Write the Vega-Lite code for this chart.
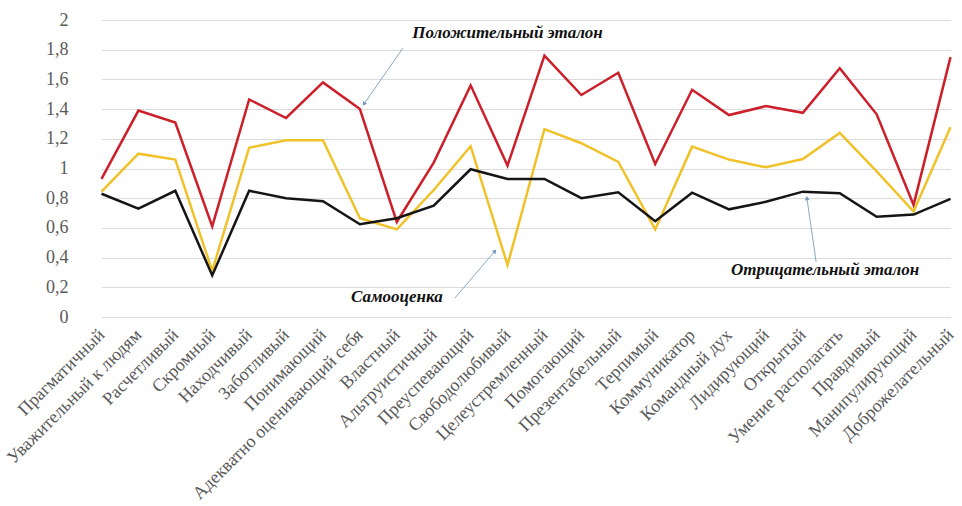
{
  "$schema": "https://vega.github.io/schema/vega-lite/v6.json",
  "autosize": {"type": "none"},
  "padding": {"left": 83, "top": 20, "right": 0, "bottom": 189},
  "width": 879,
  "height": 297,
  "background": "white",
  "config": {"view": {"stroke": null}},
  "datasets": {
    "main": [
      {"trait": "Прагматичный", "series": "Положительный эталон", "value": 0.93},
      {"trait": "Прагматичный", "series": "Самооценка", "value": 0.845},
      {"trait": "Прагматичный", "series": "Отрицательный эталон", "value": 0.83},
      {"trait": "Уважительный к людям", "series": "Положительный эталон", "value": 1.39},
      {"trait": "Уважительный к людям", "series": "Самооценка", "value": 1.1},
      {"trait": "Уважительный к людям", "series": "Отрицательный эталон", "value": 0.73},
      {"trait": "Расчетливый", "series": "Положительный эталон", "value": 1.31},
      {"trait": "Расчетливый", "series": "Самооценка", "value": 1.06},
      {"trait": "Расчетливый", "series": "Отрицательный эталон", "value": 0.85},
      {"trait": "Скромный", "series": "Положительный эталон", "value": 0.61},
      {"trait": "Скромный", "series": "Самооценка", "value": 0.31},
      {"trait": "Скромный", "series": "Отрицательный эталон", "value": 0.28},
      {"trait": "Находчивый", "series": "Положительный эталон", "value": 1.465},
      {"trait": "Находчивый", "series": "Самооценка", "value": 1.14},
      {"trait": "Находчивый", "series": "Отрицательный эталон", "value": 0.85},
      {"trait": "Заботливый", "series": "Положительный эталон", "value": 1.34},
      {"trait": "Заботливый", "series": "Самооценка", "value": 1.19},
      {"trait": "Заботливый", "series": "Отрицательный эталон", "value": 0.8},
      {"trait": "Понимающий", "series": "Положительный эталон", "value": 1.58},
      {"trait": "Понимающий", "series": "Самооценка", "value": 1.19},
      {"trait": "Понимающий", "series": "Отрицательный эталон", "value": 0.78},
      {"trait": "Адекватно оценивающий себя", "series": "Положительный эталон", "value": 1.4},
      {"trait": "Адекватно оценивающий себя", "series": "Самооценка", "value": 0.665},
      {"trait": "Адекватно оценивающий себя", "series": "Отрицательный эталон", "value": 0.625},
      {"trait": "Властный", "series": "Положительный эталон", "value": 0.64},
      {"trait": "Властный", "series": "Самооценка", "value": 0.59},
      {"trait": "Властный", "series": "Отрицательный эталон", "value": 0.665},
      {"trait": "Альтруистичный", "series": "Положительный эталон", "value": 1.04},
      {"trait": "Альтруистичный", "series": "Самооценка", "value": 0.855},
      {"trait": "Альтруистичный", "series": "Отрицательный эталон", "value": 0.75},
      {"trait": "Преуспевающий", "series": "Положительный эталон", "value": 1.56},
      {"trait": "Преуспевающий", "series": "Самооценка", "value": 1.15},
      {"trait": "Преуспевающий", "series": "Отрицательный эталон", "value": 0.995},
      {"trait": "Свободолюбивый", "series": "Положительный эталон", "value": 1.02},
      {"trait": "Свободолюбивый", "series": "Самооценка", "value": 0.35},
      {"trait": "Свободолюбивый", "series": "Отрицательный эталон", "value": 0.93},
      {"trait": "Целеустремленный", "series": "Положительный эталон", "value": 1.76},
      {"trait": "Целеустремленный", "series": "Самооценка", "value": 1.265},
      {"trait": "Целеустремленный", "series": "Отрицательный эталон", "value": 0.93},
      {"trait": "Помогающий", "series": "Положительный эталон", "value": 1.495},
      {"trait": "Помогающий", "series": "Самооценка", "value": 1.17},
      {"trait": "Помогающий", "series": "Отрицательный эталон", "value": 0.8},
      {"trait": "Презентабельный", "series": "Положительный эталон", "value": 1.645},
      {"trait": "Презентабельный", "series": "Самооценка", "value": 1.045},
      {"trait": "Презентабельный", "series": "Отрицательный эталон", "value": 0.84},
      {"trait": "Терпимый", "series": "Положительный эталон", "value": 1.03},
      {"trait": "Терпимый", "series": "Самооценка", "value": 0.59},
      {"trait": "Терпимый", "series": "Отрицательный эталон", "value": 0.645},
      {"trait": "Коммуникатор", "series": "Положительный эталон", "value": 1.53},
      {"trait": "Коммуникатор", "series": "Самооценка", "value": 1.147},
      {"trait": "Коммуникатор", "series": "Отрицательный эталон", "value": 0.837},
      {"trait": "Командный дух", "series": "Положительный эталон", "value": 1.36},
      {"trait": "Командный дух", "series": "Самооценка", "value": 1.06},
      {"trait": "Командный дух", "series": "Отрицательный эталон", "value": 0.725},
      {"trait": "Лидирующий", "series": "Положительный эталон", "value": 1.42},
      {"trait": "Лидирующий", "series": "Самооценка", "value": 1.008},
      {"trait": "Лидирующий", "series": "Отрицательный эталон", "value": 0.776},
      {"trait": "Открытый", "series": "Положительный эталон", "value": 1.375},
      {"trait": "Открытый", "series": "Самооценка", "value": 1.064},
      {"trait": "Открытый", "series": "Отрицательный эталон", "value": 0.844},
      {"trait": "Умение располагать", "series": "Положительный эталон", "value": 1.675},
      {"trait": "Умение располагать", "series": "Самооценка", "value": 1.24},
      {"trait": "Умение располагать", "series": "Отрицательный эталон", "value": 0.833},
      {"trait": "Правдивый", "series": "Положительный эталон", "value": 1.365},
      {"trait": "Правдивый", "series": "Самооценка", "value": 0.98},
      {"trait": "Правдивый", "series": "Отрицательный эталон", "value": 0.675},
      {"trait": "Манипулирующий", "series": "Положительный эталон", "value": 0.755},
      {"trait": "Манипулирующий", "series": "Самооценка", "value": 0.71},
      {"trait": "Манипулирующий", "series": "Отрицательный эталон", "value": 0.69},
      {"trait": "Доброжелательный", "series": "Положительный эталон", "value": 1.75},
      {"trait": "Доброжелательный", "series": "Самооценка", "value": 1.277},
      {"trait": "Доброжелательный", "series": "Отрицательный эталон", "value": 0.795}
    ],
    "labels": [
      {"label": "Положительный эталон", "pos": 11.0, "value": 1.91},
      {"label": "Самооценка", "pos": 8.0, "value": 0.135},
      {"label": "Отрицательный  эталон", "pos": 19.6, "value": 0.316}
    ],
    "arrows": [
      {"pos": 8.166, "value": 1.811, "pos2": 7.11, "value2": 1.434, "angle": 215},
      {"pos": 9.575, "value": 0.128, "pos2": 10.66, "value2": 0.444, "angle": 40},
      {"pos": 19.36, "value": 0.37, "pos2": 19.11, "value2": 0.801, "angle": 352}
    ]
  },
  "layer": [
    {
      "data": {"name": "main"},
      "mark": {"type": "line", "strokeWidth": 2.5},
      "encoding": {
        "x": {
          "field": "trait",
          "type": "nominal",
          "sort": null,
          "scale": {"type": "point", "range": [18.5, 867.5], "padding": 0},
          "axis": {
            "title": null,
            "labelAngle": -45,
            "labelAlign": "right",
            "labelBaseline": "middle",
            "labelPadding": 15,
            "labelFont": "Liberation Serif",
            "labelFontSize": 18,
            "labelColor": "#595959",
            "labelLimit": 0,
            "labelOverlap": false,
            "ticks": false,
            "domain": false,
            "grid": false
          }
        },
        "y": {
          "field": "value",
          "type": "quantitative",
          "scale": {"domain": [0, 2], "nice": false},
          "axis": {
            "title": null,
            "values": [0, 0.2, 0.4, 0.6, 0.8, 1, 1.2, 1.4, 1.6, 1.8, 2],
            "tickCount": 11,
            "labelExpr": "replace(format(datum.value, '.1~f'), '.', ',')",
            "labelFont": "Liberation Serif",
            "labelFontSize": 18,
            "labelColor": "#595959",
            "labelPadding": 15,
            "labelOverlap": false,
            "ticks": false,
            "domain": false,
            "grid": true,
            "gridColor": "#dcdcdc",
            "gridWidth": 1
          }
        },
        "color": {
          "field": "series",
          "type": "nominal",
          "scale": {
            "domain": ["Самооценка", "Положительный эталон", "Отрицательный эталон"],
            "range": ["#f0c22a", "#cc1f2a", "#151515"]
          },
          "legend": null
        }
      }
    },
    {
      "layer": [
        {
          "data": {"name": "arrows"},
          "mark": {"type": "rule", "color": "#86a9c8", "strokeWidth": 1},
          "encoding": {
            "x": {"field": "pos", "type": "quantitative"},
            "y": {"field": "value", "type": "quantitative"},
            "x2": {"field": "pos2"},
            "y2": {"field": "value2"}
          }
        },
        {
          "data": {"name": "arrows"},
          "mark": {"type": "point", "shape": "triangle-up", "filled": true, "color": "#6f98bf", "size": 22, "opacity": 1},
          "encoding": {
            "x": {"field": "pos2", "type": "quantitative"},
            "y": {"field": "value2", "type": "quantitative"},
            "angle": {"field": "angle", "type": "quantitative", "scale": null}
          }
        },
        {
          "data": {"name": "labels"},
          "mark": {"type": "text", "font": "Liberation Serif", "fontSize": 17, "fontWeight": "bold", "fontStyle": "italic", "color": "#111111", "align": "center", "baseline": "middle"},
          "encoding": {
            "x": {"field": "pos", "type": "quantitative"},
            "y": {"field": "value", "type": "quantitative"},
            "text": {"field": "label"}
          }
        }
      ],
      "encoding": {
        "x": {"scale": {"domain": [0, 23], "range": [18.5, 867.5], "nice": false, "zero": false}, "axis": null}
      }
    }
  ],
  "resolve": {"scale": {"x": "independent"}}
}
